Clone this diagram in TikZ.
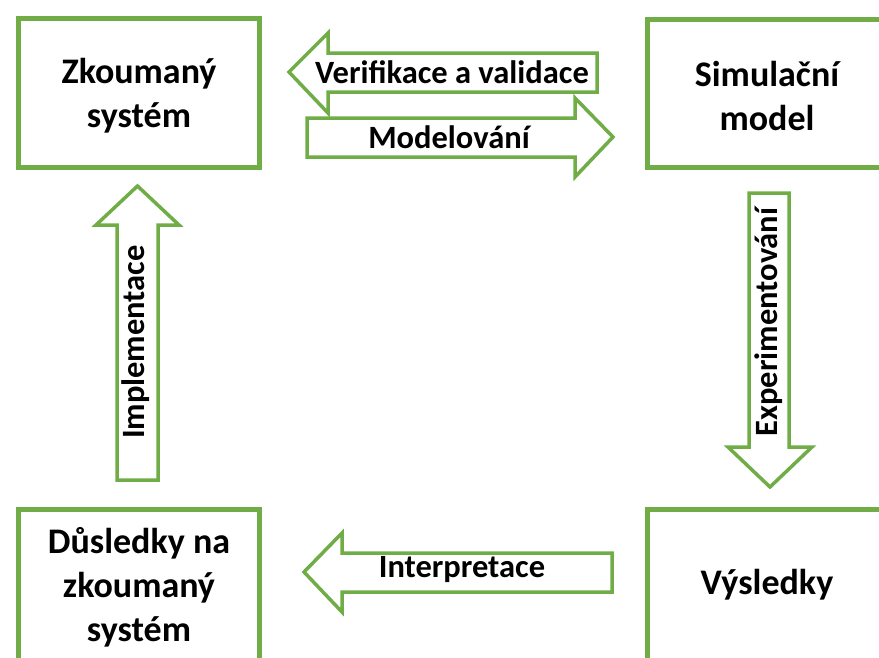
\documentclass[tikz,border=0pt]{standalone}
\usepackage{fontspec}
\setmainfont{Carlito}
\usetikzlibrary{shadows}
\definecolor{leaf}{HTML}{70AD47}
\tikzset{
  stagebox/.style={draw=leaf, line width=5pt, fill=white,
    drop shadow={opacity=0.25, shadow xshift=1pt, shadow yshift=-1pt}},
  stagetext/.style={font=\bfseries\fontsize{36}{44}\selectfont, align=center, text=black},
  blockarrow/.style={draw=leaf, line width=3.5pt, fill=white, line join=miter},
  arrowtext/.style={font=\bfseries\fontsize{32.5}{38}\selectfont, text=black, inner sep=0pt}
}
\begin{document}
\begin{tikzpicture}[x=1pt, y=-1pt]
\useasboundingbox (0,0) rectangle (879,657);
\clip (0,0) rectangle (879,657);
\fill[white] (0,0) rectangle (879,657);

% stage boxes
\draw[stagebox] (18.5,18.5) rectangle (259.5,167.5);
\draw[stagebox] (647.5,19.5) rectangle (900,167.5);
\draw[stagebox] (18.5,509.5) rectangle (259.5,680);
\draw[stagebox] (647.5,509.5) rectangle (900,680);

\node[stagetext] (system) at (139,96) {Zkoumaný\\systém};
\node[stagetext] (model) at (767,96) {Simulační\\model};
\node[stagetext] (impact) at (139,587) {Důsledky na\\zkoumaný\\systém};
\node[stagetext] (results) at (767,585) {Výsledky};

% Verifikace a validace (pointing left)
\draw[blockarrow] (289,72) -- (328,33) -- (328,53) -- (597,53) -- (597,92)
  -- (328,92) -- (328,113) -- cycle;
\node[arrowtext] (verif) at (452,72) {Verifikace a validace};

% Modelovani (pointing right)
\draw[blockarrow] (613,137) -- (575,98) -- (575,118) -- (307,118) -- (307,157)
  -- (575,157) -- (575,177) -- cycle;
\node[arrowtext] (modeling) at (449,137) {Modelování};

% Experimentovani (pointing down)
\draw[blockarrow] (770,487) -- (728,447) -- (749,447) -- (749,193) -- (789,193)
  -- (789,447) -- (812,447) -- cycle;
\node[arrowtext, rotate=90] (experiment) at (769,322) {Experimentování};

% Implementace (pointing up)
\draw[blockarrow] (137.5,186) -- (96,225) -- (117,225) -- (117,480) -- (158,480)
  -- (158,225) -- (179,225) -- cycle;
\node[arrowtext, rotate=90] (implement) at (136,342) {Implementace};

% Interpretace (pointing left)
\draw[blockarrow] (304,572) -- (342,533) -- (342,553) -- (612,553) -- (612,592)
  -- (342,592) -- (342,612) -- cycle;
\node[arrowtext] (interpret) at (462,570) {Interpretace};
\end{tikzpicture}
\end{document}
